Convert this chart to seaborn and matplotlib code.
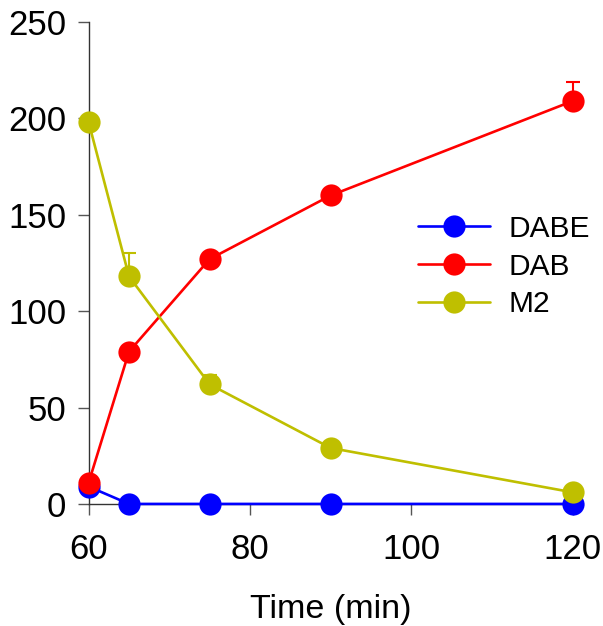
import matplotlib
matplotlib.use("Agg")
import matplotlib.pyplot as plt
import seaborn as sns
import pandas as pd

time = [60, 65, 75, 90, 120]
dabe = [9, 0, 0, 0, 0]
dab = [11, 79, 127, 160, 209]
m2 = [198, 118, 62, 29, 6]
series_names = ["DABE", "DAB", "M2"]
colors = ["#0000ff", "#ff0000", "#bfbf00"]
# upper error bars (time, value, error)
dab_err = {120: 10}
m2_err = {65: 12, 75: 5}

sns.set_theme(style="ticks")
plt.rcParams["font.family"] = ["Liberation Sans", "DejaVu Sans"]
plt.rcParams["text.color"] = "black"

fig = plt.figure(figsize=(6.03, 6.26), dpi=100)
ax = fig.add_axes([0.147, 0.195, 0.803, 0.77])

rows = []
for name, vals in zip(series_names, [dabe, dab, m2]):
    for t, v in zip(time, vals):
        rows.append({"time": t, "value": v, "series": name})
df = pd.DataFrame(rows)

for name, col, errs in zip(series_names, colors, [{}, dab_err, m2_err]):
    sub = df[df.series == name]
    for t, e in errs.items():
        v = sub[sub.time == t]["value"].iloc[0]
        ax.errorbar([t], [v], yerr=[[0], [e]], color=col, capsize=5,
                    elinewidth=1.5, capthick=1.5, fmt="none", clip_on=False,
                    zorder=2.5)
    sns.lineplot(data=sub, x="time", y="value", color=col, marker="o",
                 markersize=16, markeredgewidth=0, linewidth=1.9,
                 label=name, ax=ax, clip_on=False, zorder=3)

ax.set_xlim(60, 120)
ax.set_ylim(0, 250)
ax.set_xticks([60, 80, 100, 120])
ax.set_yticks([0, 50, 100, 150, 200, 250])
ax.set_xlabel("Time (min)", fontsize=24.5, labelpad=20, color="black")
ax.set_ylabel("")
ax.tick_params(axis="both", labelsize=25, length=8, width=1,
               direction="out", color="#555555", labelcolor="black")
ax.tick_params(axis="x", pad=13)
ax.tick_params(axis="y", pad=8)
for s in ["top", "right"]:
    ax.spines[s].set_visible(False)
for s in ["left", "bottom"]:
    ax.spines[s].set_color("#333333")
    ax.spines[s].set_linewidth(1)

ax.legend(loc="upper left", bbox_to_anchor=(0.68, 0.60), frameon=False,
          fontsize=21.5, handlelength=2.4, handletextpad=0.65,
          labelspacing=0.33, borderpad=0, borderaxespad=0)

fig.savefig("out.png", dpi=100)
